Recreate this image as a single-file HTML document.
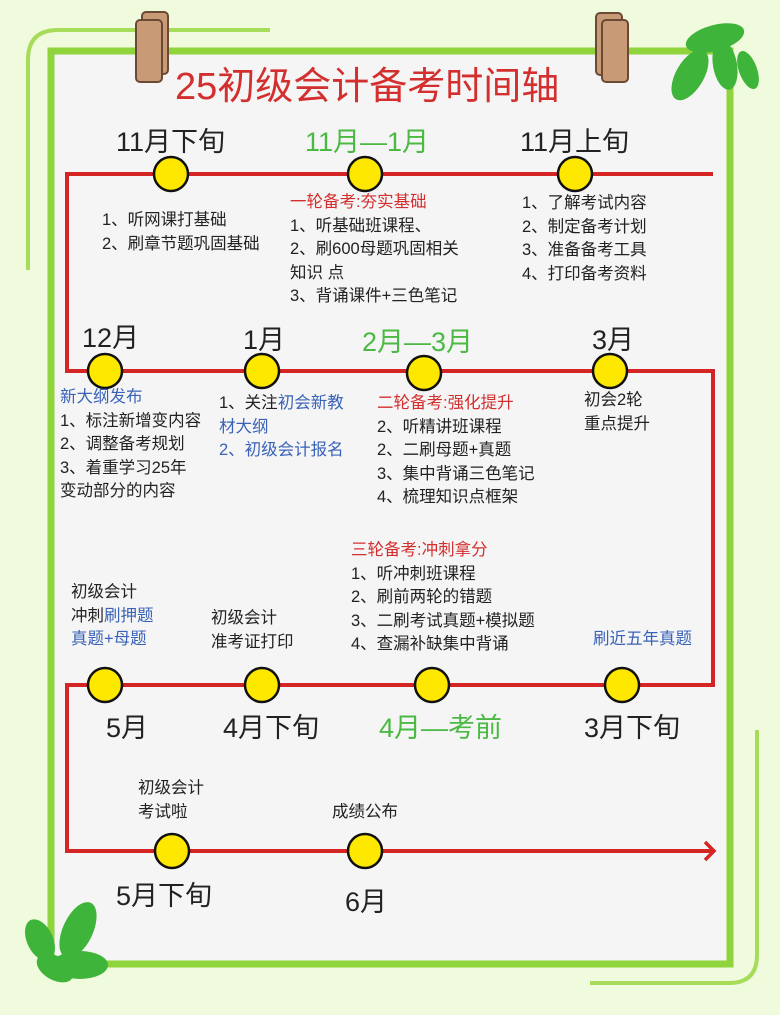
<!DOCTYPE html>
<html><head><meta charset="utf-8">
<style>
body{margin:0;width:780px;height:1015px;background:#effbdc;position:relative;overflow:hidden;font-family:"Liberation Sans","Noto Sans CJK SC",sans-serif;}
.t{position:absolute;white-space:nowrap;color:#222;}
.b{font-size:16.5px;line-height:23.5px;}
.m{font-size:27px;}
.g{color:#4cb944;}
.r{color:#d32f2f;}
.bl{color:#3a63b8;}
</style></head><body>
<svg width="780" height="1015" style="position:absolute;left:0;top:0">
<path d="M28,270 L28,60 Q28,30 58,30 L270,30" fill="none" stroke="#a6dc5a" stroke-width="4"/>
<path d="M757,730 L757,955 Q757,983 729,983 L590,983" fill="none" stroke="#a6dc5a" stroke-width="4"/>
<rect x="51" y="51" width="679" height="913" fill="#f5f5f5" stroke="#8fd43c" stroke-width="7"/>
<g stroke="#d42424" stroke-width="4" fill="none">
<path d="M713,174 L67,174 L67,371 L713,371 L713,685 L67,685 L67,851 L713,851"/>
<path d="M705,842 L714,851 L705,860" stroke-width="3.5"/>
</g>
<g fill="#ffe800" stroke="#111" stroke-width="2.5">
<circle cx="171" cy="174" r="17"/><circle cx="365" cy="174" r="17"/><circle cx="575" cy="174" r="17"/>
<circle cx="105" cy="371" r="17"/><circle cx="262" cy="371" r="17"/><circle cx="424" cy="373" r="17"/><circle cx="610" cy="371" r="17"/>
<circle cx="105" cy="685" r="17"/><circle cx="262" cy="685" r="17"/><circle cx="432" cy="685" r="17"/><circle cx="622" cy="685" r="17"/>
<circle cx="172" cy="851" r="17"/><circle cx="365" cy="851" r="17"/>
</g>
<g fill="#c99a76" stroke="#6b4a35" stroke-width="2">
<rect x="142" y="12" width="26" height="62" rx="4"/><rect x="136" y="20" width="26" height="62" rx="4"/>
<rect x="596" y="13" width="26" height="62" rx="4"/><rect x="602" y="20" width="26" height="62" rx="4"/>
</g>
<g fill="#3fb43a">
<ellipse cx="715" cy="38" rx="30" ry="13" transform="rotate(-15 715 38)"/>
<ellipse cx="690" cy="75" rx="14" ry="28" transform="rotate(30 690 75)"/>
<ellipse cx="725" cy="65" rx="12" ry="25" transform="rotate(-10 725 65)"/>
<ellipse cx="748" cy="70" rx="9" ry="20" transform="rotate(-20 748 70)"/>
<ellipse cx="40" cy="940" rx="13" ry="22" transform="rotate(-25 40 940)"/>
<ellipse cx="78" cy="930" rx="15" ry="30" transform="rotate(25 78 930)"/>
<ellipse cx="80" cy="965" rx="28" ry="14"/>
<ellipse cx="55" cy="968" rx="20" ry="12" transform="rotate(30 55 968)"/>
</g>
</svg>
<div class="t r" style="left:175px;top:55px;font-size:38px;">25初级会计备考时间轴</div>
<div class="t m" style="left:116px;top:120px;">11月下旬</div>
<div class="t m g" style="left:305px;top:120px;">11月—1月</div>
<div class="t m" style="left:520px;top:120px;">11月上旬</div>
<div class="t b" style="left:102px;top:209px;">1、听网课打基础<br>2、刷章节题巩固基础</div>
<div class="t b" style="left:290px;top:191px;"><span class="r">一轮备考:夯实基础</span><br>1、听基础班课程、<br>2、刷600母题巩固相关<br>知识 点<br>3、背诵课件+三色笔记</div>
<div class="t b" style="left:522px;top:192px;">1、了解考试内容<br>2、制定备考计划<br>3、准备备考工具<br>4、打印备考资料</div>
<div class="t m" style="left:82px;top:316px;">12月</div>
<div class="t m" style="left:243px;top:318px;">1月</div>
<div class="t m g" style="left:362px;top:320px;">2月—3月</div>
<div class="t m" style="left:592px;top:318px;">3月</div>
<div class="t b" style="left:60px;top:386px;"><span class="bl">新大纲发布</span><br>1、标注新增变内容<br>2、调整备考规划<br>3、着重学习25年<br>变动部分的内容</div>
<div class="t b" style="left:219px;top:392px;">1、关注<span class="bl">初会新教</span><br><span class="bl">材大纲</span><br><span class="bl">2、初级会计报名</span></div>
<div class="t b" style="left:377px;top:392px;"><span class="r">二轮备考:强化提升</span><br>2、听精讲班课程<br>2、二刷母题+真题<br>3、集中背诵三色笔记<br>4、梳理知识点框架</div>
<div class="t b" style="left:584px;top:389px;">初会2轮<br>重点提升</div>
<div class="t b" style="left:351px;top:539px;"><span class="r">三轮备考:冲刺拿分</span><br>1、听冲刺班课程<br>2、刷前两轮的错题<br>3、二刷考试真题+模拟题<br>4、查漏补缺集中背诵</div>
<div class="t b" style="left:71px;top:581px;">初级会计<br>冲刺<span class="bl">刷押题</span><br><span class="bl">真题+母题</span></div>
<div class="t b" style="left:211px;top:607px;">初级会计<br>准考证打印</div>
<div class="t b bl" style="left:593px;top:628px;">刷近五年真题</div>
<div class="t m" style="left:106px;top:706px;">5月</div>
<div class="t m" style="left:223px;top:706px;">4月下旬</div>
<div class="t m g" style="left:379px;top:706px;">4月—考前</div>
<div class="t m" style="left:584px;top:706px;">3月下旬</div>
<div class="t b" style="left:138px;top:777px;">初级会计<br>考试啦</div>
<div class="t b" style="left:332px;top:801px;">成绩公布</div>
<div class="t m" style="left:116px;top:874px;">5月下旬</div>
<div class="t m" style="left:345px;top:880px;">6月</div>
</body></html>
